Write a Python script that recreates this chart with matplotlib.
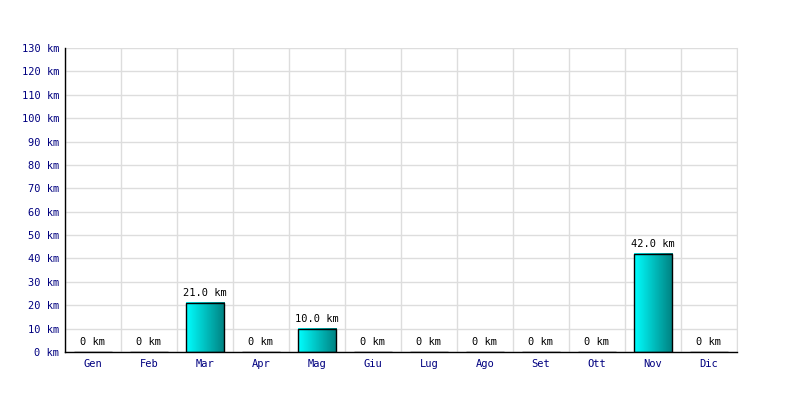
import matplotlib.pyplot as plt
import numpy as np
from matplotlib.colors import LinearSegmentedColormap

months = ['Gen', 'Feb', 'Mar', 'Apr', 'Mag', 'Giu', 'Lug', 'Ago', 'Set', 'Ott', 'Nov', 'Dic']
km = [0, 0, 21.0, 0, 10.0, 0, 0, 0, 0, 0, 42.0, 0]

plt.rcParams['font.family'] = 'DejaVu Sans Mono'

fig = plt.figure(figsize=(8, 4), dpi=100)
ax = fig.add_axes([0.08125, 0.12, 0.84, 0.76])

x = np.arange(len(months))
bars = ax.bar(x, km, width=0.68, facecolor='none', edgecolor='black', linewidth=1, zorder=3)

# horizontal cyan -> teal gradient inside each bar
cmap = LinearSegmentedColormap.from_list('cy', ['#00ffff', '#008080'])
grad = np.linspace(0, 1, 256).reshape(1, -1)
for b in bars:
    h = b.get_height()
    if h <= 0:
        continue
    x0 = b.get_x()
    ax.imshow(grad, cmap=cmap, aspect='auto', extent=(x0, x0 + b.get_width(), 0, h), zorder=2)

for xi, v in zip(x, km):
    lbl = '0 km' if v == 0 else f'{v:.1f} km'
    ax.text(xi, v + 2, lbl, ha='center', va='bottom', fontsize=7.5, color='black')

ax.set_xlim(-0.5, len(months) - 0.5)
ax.set_ylim(0, 130)
ax.set_yticks(range(0, 131, 10))
ax.set_yticklabels([f'{t} km' for t in range(0, 131, 10)])
ax.set_xticks(x)
ax.set_xticklabels(months)
ax.set_xticks(np.arange(-0.5, len(months)), minor=True)
ax.grid(True, which='minor', axis='x', color='#dddddd', linewidth=1, zorder=0)
ax.grid(True, which='major', axis='y', color='#dddddd', linewidth=1, zorder=0)
ax.tick_params(axis='both', which='both', length=0, labelsize=7.5, labelcolor='#000080')
ax.tick_params(axis='y', pad=4)
ax.tick_params(axis='x', pad=5)
ax.set_axisbelow(True)
ax.spines['top'].set_visible(False)
ax.spines['right'].set_color('#dddddd')
ax.spines['left'].set_linewidth(1)
ax.spines['bottom'].set_linewidth(1)

fig.savefig('out.png')
